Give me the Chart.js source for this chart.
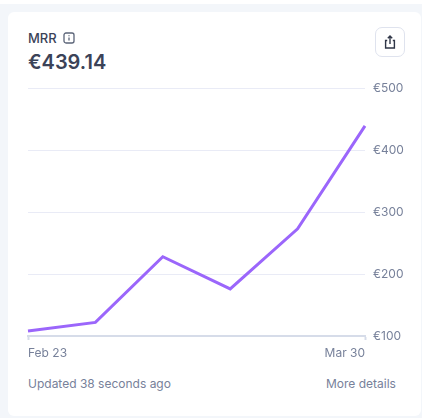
<!DOCTYPE html>
<html>
<head>
<meta charset="utf-8">
<title>MRR</title>
<script src="https://cdn.jsdelivr.net/npm/chart.js@4"></script>
<style>
    html, body { margin: 0; padding: 0; background: #fff; }
    body { width: 422px; height: 418px; position: relative; overflow: hidden; font-family: Inter, sans-serif; }
    .page-bg { position: absolute; left: 0; top: 4px; width: 422px; height: 414px; background: #f3f6fa; }
    .card { position: absolute; left: 8px; top: 12px; width: 413px; height: 404px; background: #fff; border-radius: 6px; }
    .abs { position: absolute; white-space: nowrap; }
    #title { left: 28px; top: 30px; font-size: 13px; line-height: 16px; font-weight: 500; color: #3b4358; }
    #info { left: 63px; top: 32px; }
    #value { left: 28px; top: 50px; font-size: 20px; line-height: 24px; font-weight: 600; color: #3b4358; }
    #share { left: 375px; top: 27px; border: 1px solid #dfe3ee; border-radius: 7px; box-sizing: border-box; width: 30px; height: 30px; background: #fff; }
    #share svg { position: absolute; left: 6px; top: 6px; }
    .foot { top: 376px; font-size: 12px; line-height: 15px; color: #77819a; }
    #updated { left: 28px; }
    #more { left: 326px; }
    #chart { position: absolute; left: 20px; top: 73px; }
</style>
</head>
<body>
<div class="page-bg"></div>
<div class="card"></div>
<div class="abs" id="title">MRR</div>
<svg class="abs" id="info" width="12" height="12" viewBox="0 0 12 12" fill="none">
    <rect x="1" y="1" width="10" height="10" rx="2" stroke="#5b6478" stroke-width="1.3"/>
    <path d="M6 5.4V8.6M6 3.3V4.2" stroke="#5b6478" stroke-width="1.3"/>
</svg>
<div class="abs" id="value">€439.14</div>
<div class="abs" id="share">
    <svg width="16" height="16" viewBox="0 0 16 16" fill="none" stroke="#2f3647" stroke-width="1.4">
        <path d="M5.2 6.5H3.6V14H12.4V6.5H10.8"/>
        <path d="M8 10V2M5.8 4.2L8 2L10.2 4.2"/>
    </svg>
</div>
<canvas id="chart" width="390" height="291"></canvas>
<div class="abs foot" id="updated">Updated 38 seconds ago</div>
<div class="abs foot" id="more">More details</div>

<script>
    const dates = ['Feb 23', 'Mar 2', 'Mar 9', 'Mar 16', 'Mar 23', 'Mar 30'];
    const mrrValues = [108, 122, 228, 176, 273, 439.14];
    const yTicks = [100, 200, 300, 400, 500];

    const axisColor = '#d6dce9';
    const gridColor = '#e9ebf6';
    const labelColor = '#77819a';
    const lineColor = '#9b66fb';

    const lastIndex = dates.length - 1;

    new Chart(document.getElementById('chart'), {
        type: 'line',
        data: {
            labels: dates,
            datasets: [{
                label: 'MRR',
                data: mrrValues,
                borderColor: lineColor,
                borderWidth: 3,
                pointRadius: 0,
                tension: 0,
                borderJoinStyle: 'miter'
            }]
        },
        options: {
            responsive: false,
            animation: false,
            layout: { padding: { left: 8, right: 0, top: 5, bottom: 0 } },
            plugins: { legend: { display: false }, tooltip: { enabled: false } },
            scales: {
                x: {
                    offset: false,
                    border: { color: axisColor, width: 2 },
                    grid: {
                        drawOnChartArea: false,
                        tickLength: 4,
                        tickWidth: 2,
                        tickColor: ctx => (ctx.index === 0 || ctx.index === lastIndex) ? axisColor : 'rgba(0,0,0,0)'
                    },
                    ticks: {
                        align: 'inner',
                        autoSkip: false,
                        maxRotation: 0,
                        padding: 6,
                        color: labelColor,
                        font: { family: 'Inter', size: 12 },
                        callback: (v, i) => (i === 0 || i === lastIndex) ? dates[i] : ''
                    },
                    afterFit: scale => { scale.height = 28; }
                },
                y: {
                    position: 'right',
                    min: yTicks[0],
                    max: yTicks[yTicks.length - 1],
                    border: { display: false },
                    grid: { color: gridColor, drawTicks: false },
                    afterBuildTicks: scale => { scale.ticks = yTicks.map(v => ({ value: v })); },
                    ticks: {
                        padding: 8,
                        color: labelColor,
                        font: { family: 'Inter', size: 12 },
                        callback: v => '€' + v
                    },
                    afterFit: scale => { scale.width = 45; }
                }
            }
        }
    });
</script>
</body>
</html>
